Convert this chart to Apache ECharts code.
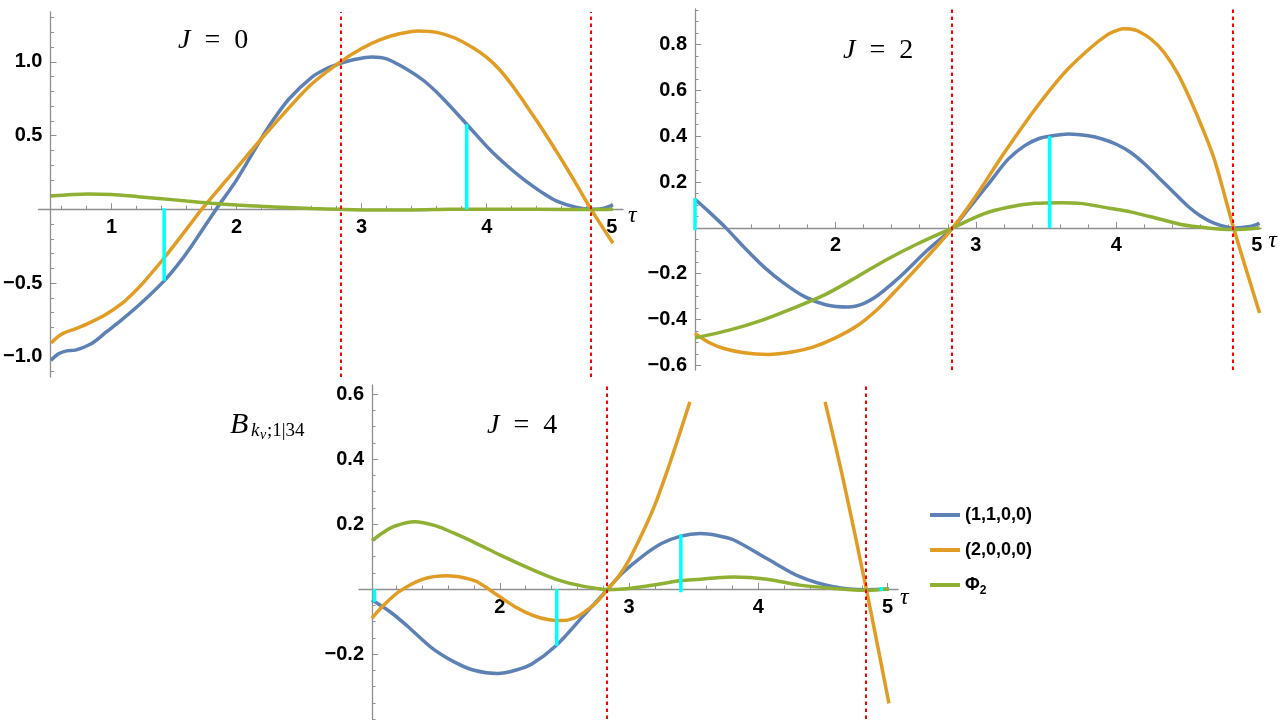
<!DOCTYPE html>
<html>
<head>
<meta charset="utf-8">
<title>B kv;1|34 for J = 0, 2, 4</title>
<script src="https://cdn.jsdelivr.net/npm/echarts@6/dist/echarts.min.js"></script>
<style>
    html, body { margin: 0; padding: 0; background: #fff; }
    #main { width: 1280px; height: 720px; }
</style>
</head>
<body>
<div id="main"></div>
<script>
'use strict';

// tau of the two red dotted lines (same in every panel)
var redLines = [2.835, 4.835];

// ---- J = 0 ----
var j0Blue = [[0.515,-1.025],[0.575,-0.98],[0.64,-0.96],[0.71,-0.955],[0.84,-0.91],[0.96,-0.83],[1.08,-0.75],[1.25,-0.625],[1.42,-0.485],
    [1.52,-0.385],[1.63,-0.26],[1.84,0.006],[2.0,0.2],[2.19,0.47],[2.3,0.615],[2.42,0.75],[2.6,0.895],[2.72,0.955],[2.83,0.99],
    [2.95,1.017],[3.08,1.033],[3.2,1.02],[3.38,0.94],[3.5,0.87],[3.64,0.76],[3.84,0.577],[4.03,0.4],[4.17,0.29],[4.3,0.2],[4.45,0.11],
    [4.56,0.055],[4.72,0.012],[4.835,0.0],[4.93,0.006],[5.01,0.03]];
var j0Orange = [[0.515,-0.906],[0.6,-0.847],[0.71,-0.81],[0.81,-0.775],[0.95,-0.715],[1.08,-0.64],[1.17,-0.57],[1.25,-0.5],[1.42,-0.33],
    [1.63,-0.1],[1.72,0.0],[1.95,0.23],[2.19,0.47],[2.42,0.69],[2.6,0.85],[2.83,1.0],[3.0,1.09],[3.15,1.15],[3.3,1.19],[3.45,1.21],
    [3.6,1.2],[3.75,1.16],[3.9,1.09],[4.0,1.03],[4.1,0.95],[4.2,0.845],[4.3,0.725],[4.4,0.6],[4.5,0.47],[4.6,0.335],[4.7,0.195],
    [4.835,0.0],[5.01,-0.23]];
var j0Green = [[0.515,0.09],[0.81,0.104],[1.0,0.1],[1.21,0.086],[1.4,0.072],[1.6,0.056],[1.8,0.041],[2.0,0.029],[2.2,0.02],[2.4,0.013],
    [2.6,0.006],[2.83,0.0],[3.1,-0.004],[3.4,-0.004],[3.7,0.0],[4.0,0.001],[4.4,0.0],[4.835,-0.002],[5.01,0.0]];
var j0Cyan = [[1.42,0.007,-0.485],[3.84,0.0,0.577]];          // [tau, from, to]
var j0XLabels = [1, 2, 3, 4, 5];
var j0YLabels = [-1.0, -0.5, 0.5, 1.0];

// ---- J = 2 ----
var j2Blue = [[1.0,0.125],[1.1,0.07],[1.22,0.0],[1.35,-0.085],[1.49,-0.17],[1.63,-0.24],[1.78,-0.3],[1.93,-0.335],[2.09,-0.345],
    [2.2,-0.33],[2.3,-0.295],[2.4,-0.245],[2.5,-0.19],[2.65,-0.1],[2.835,0.0],[2.95,0.085],[3.1,0.2],[3.23,0.3],[3.35,0.36],
    [3.45,0.39],[3.525,0.4],[3.66,0.41],[3.8,0.402],[3.9,0.388],[4.0,0.365],[4.1,0.33],[4.2,0.28],[4.3,0.22],[4.4,0.16],[4.5,0.1],
    [4.6,0.052],[4.7,0.02],[4.835,0.0],[4.95,0.006],[5.02,0.02]];
var j2Orange = [[1.0,-0.46],[1.1,-0.5],[1.2,-0.525],[1.35,-0.545],[1.52,-0.552],[1.7,-0.54],[1.84,-0.52],[2.0,-0.48],[2.16,-0.425],
    [2.3,-0.355],[2.42,-0.28],[2.55,-0.195],[2.7,-0.095],[2.835,0.0],[2.95,0.095],[3.05,0.185],[3.15,0.28],[3.25,0.37],[3.4,0.5],
    [3.525,0.6],[3.65,0.69],[3.815,0.785],[3.93,0.84],[3.99,0.858],[4.05,0.869],[4.1,0.868],[4.15,0.86],[4.25,0.822],[4.34,0.765],
    [4.44,0.67],[4.53,0.555],[4.62,0.425],[4.7,0.295],[4.835,0.0],[5.02,-0.371]];
var j2Green = [[1.0,-0.48],[1.25,-0.445],[1.49,-0.4],[1.7,-0.35],[1.93,-0.29],[2.15,-0.215],[2.36,-0.14],[2.6,-0.065],[2.835,0.0],
    [3.05,0.06],[3.23,0.09],[3.42,0.107],[3.61,0.11],[3.745,0.107],[3.96,0.085],[4.1,0.07],[4.3,0.04],[4.46,0.015],[4.65,0.0],
    [4.83,-0.007],[5.02,0.0]];
var j2Cyan = [[1.0,-0.01,0.13],[3.525,0.0,0.4],[5.08,-0.01,0.045]];
var j2XLabels = [2, 3, 4, 5];
var j2YLabels = [-0.6, -0.4, -0.2, 0.2, 0.4, 0.6, 0.8];

// ---- J = 4 ----
var j4Blue = [[1.01,-0.034],[1.15,-0.07],[1.29,-0.116],[1.47,-0.18],[1.65,-0.225],[1.8,-0.25],[1.98,-0.26],[2.12,-0.25],[2.25,-0.23],
    [2.44,-0.172],[2.64,-0.085],[2.835,0.0],[2.95,0.05],[3.1,0.1],[3.25,0.14],[3.4,0.163],[3.55,0.171],[3.68,0.165],[3.81,0.151],
    [4.065,0.094],[4.32,0.038],[4.58,0.007],[4.83,-0.002],[5.01,0.0]];
var j4OrangeA = [[1.01,-0.09],[1.1,-0.05],[1.22,-0.008],[1.4,0.03],[1.59,0.041],[1.72,0.035],[1.82,0.023],[2.0,-0.024],[2.12,-0.055],
    [2.25,-0.08],[2.37,-0.094],[2.48,-0.097],[2.57,-0.09],[2.64,-0.075],[2.75,-0.04],[2.835,0.0],[2.92,0.04],[3.0,0.09],[3.1,0.17],
    [3.2,0.26],[3.3,0.37],[3.4,0.49],[3.47,0.576]];
var j4OrangeB = [[4.516,0.576],[4.657,0.335],[4.835,0.0],[5.01,-0.352]];     // orange comes back after leaving the top
var j4Green = [[1.01,0.149],[1.1,0.175],[1.19,0.194],[1.34,0.207],[1.5,0.195],[1.65,0.171],[1.82,0.14],[2.0,0.105],[2.18,0.072],
    [2.35,0.043],[2.5,0.022],[2.64,0.009],[2.75,0.002],[2.835,-0.002],[2.95,0.0],[3.1,0.007],[3.25,0.016],[3.4,0.026],[3.55,0.03],
    [3.68,0.035],[3.81,0.037],[4.065,0.03],[4.32,0.012],[4.58,0.002],[4.83,-0.004],[5.01,0.0]];
var j4Cyan = [[1.03,0.0,-0.04],[2.44,0.0,-0.175],[3.4,-0.01,0.168],[4.95,0.006,-0.006]];
var j4XLabels = [2, 3, 4, 5];
var j4YLabels = [-0.2, 0.2, 0.4, 0.6];

var names = ['(1,1,0,0)', '(2,0,0,0)', 'Φ2'];
var blueC = '#5e81b5', orangeC = '#e19c24', greenC = '#8fb032', cyanC = '#00ffff', redC = '#ff0000';
var axisGray = '#8f8f8f';
var sans = '"Liberation Sans", Arial, sans-serif';
var serif = '"Liberation Serif", "Times New Roman", serif';

// panel boxes and ranges: [left, top, width, height], x range, y range
var grids = [
    { box: [33, 12, 590, 365], x: [0.415, 5.09], y: [-1.137, 1.338] },
    { box: [695, 9, 566, 361], x: [1.0, 5.03], y: [-0.62, 0.955] },
    { box: [359, 385, 539, 334], x: [0.91, 5.08], y: [-0.4, 0.628] }
];

function steps(from, to, step) { // minor tick positions
    var out = [];
    for (var i = 0; from + i * step <= to + 1e-9; i++) {
        out.push(Math.round((from + i * step) * 1000) / 1000);
    }
    return out;
}

function yFmt(v) {
    return (v < 0 ? '\u2212' : '') + Math.abs(v).toFixed(1);
}

// two x axes per panel (labels + long ticks, short minor ticks), both lifted to y = 0
function makeX(gi, labels, minor, nameGap, nameLH) {
    var g = grids[gi];
    var lift = -g.box[3] * (0 - g.y[0]) / (g.y[1] - g.y[0]);   // move axis from the bottom edge up to y = 0
    return [{
        type: 'value', gridIndex: gi, position: 'bottom', offset: lift, min: g.x[0], max: g.x[1],
        axisLine: { onZero: false, lineStyle: { color: axisGray, width: 1.3 } },
        axisTick: { inside: true, length: 6, customValues: labels, lineStyle: { color: axisGray, width: 1 } },
        axisLabel: { customValues: labels, margin: 8, color: '#000', fontFamily: sans, fontWeight: 'bold', fontSize: 20 },
        splitLine: { show: false },
        name: 'τ', nameLocation: 'end', nameGap: nameGap,
        nameTextStyle: { fontFamily: serif, fontStyle: 'italic', fontSize: 24, color: '#000',
            verticalAlign: 'top', lineHeight: nameLH }
    }, {
        type: 'value', gridIndex: gi, position: 'bottom', offset: lift, min: g.x[0], max: g.x[1],
        axisLine: { show: false, onZero: false },
        axisTick: { inside: true, length: 3.5, customValues: minor, lineStyle: { color: axisGray, width: 1 } },
        axisLabel: { show: false },
        splitLine: { show: false }
    }];
}

function makeY(gi, labels, minor, off) {
    var g = grids[gi];
    return [{
        type: 'value', gridIndex: gi, position: 'left', offset: off, min: g.y[0], max: g.y[1],
        axisLine: { show: true, onZero: false, lineStyle: { color: axisGray, width: 1.3 } },
        axisTick: { inside: true, length: 6, customValues: labels, lineStyle: { color: axisGray, width: 1 } },
        axisLabel: { customValues: labels, formatter: yFmt, margin: 8, color: '#000', fontFamily: sans, fontWeight: 'bold', fontSize: 20 },
        splitLine: { show: false }
    }, {
        type: 'value', gridIndex: gi, position: 'left', offset: off, min: g.y[0], max: g.y[1],
        axisLine: { show: false, onZero: false },
        axisTick: { inside: true, length: 3.5, customValues: minor, lineStyle: { color: axisGray, width: 1 } },
        axisLabel: { show: false },
        splitLine: { show: false }
    }];
}

function curve(name, color, data, gi, withRed) {
    var s = {
        name: name, type: 'line', xAxisIndex: 2 * gi, yAxisIndex: 2 * gi, data: data,
        smooth: 0.3, symbol: 'none', showSymbol: false, silent: true, z: 3,
        lineStyle: { color: color, width: 3.5 }, itemStyle: { color: color }
    };
    if (withRed) {
        s.markLine = {
            silent: true, symbol: ['none', 'none'], label: { show: false },
            lineStyle: { color: redC, width: 2, type: [3.5, 3.5] },
            data: redLines.map(function (v) { return { xAxis: v }; })
        };
    }
    return s;
}

function sticks(list, gi) { // cyan vertical bars
    return list.map(function (c) {
        return {
            type: 'line', xAxisIndex: 2 * gi, yAxisIndex: 2 * gi, data: [[c[0], c[1]], [c[0], c[2]]],
            symbol: 'none', showSymbol: false, silent: true, clip: false, z: 6,
            lineStyle: { color: cyanC, width: 3.5 }
        };
    });
}

var series = [].concat(
    curve(names[0], blueC, j0Blue, 0), curve(names[1], orangeC, j0Orange, 0), curve(names[2], greenC, j0Green, 0, true), sticks(j0Cyan, 0),
    curve(names[0], blueC, j2Blue, 1), curve(names[1], orangeC, j2Orange, 1), curve(names[2], greenC, j2Green, 1, true), sticks(j2Cyan, 1),
    curve(names[0], blueC, j4Blue, 2), curve(names[1], orangeC, j4OrangeA, 2), curve(names[1], orangeC, j4OrangeB, 2),
    curve(names[2], greenC, j4Green, 2, true), sticks(j4Cyan, 2)
);

function jLabel(txt, x, y) {
    return {
        type: 'text', x: x, y: y, silent: true,
        style: {
            text: '{i|J}{r|\u2002=\u2002' + txt + '}', fill: '#000', align: 'left', verticalAlign: 'middle',
            textAlign: 'left', textVerticalAlign: 'middle',
            rich: {
                i: { fontFamily: serif, fontStyle: 'italic', fontSize: 28, fill: '#000', color: '#000' },
                r: { fontFamily: serif, fontSize: 28, fill: '#000', color: '#000' }
            }
        }
    };
}

function piece(txt, x, y, size, italic) {
    return {
        type: 'text', x: x, y: y, silent: true,
        style: {
            text: txt, fill: '#000', align: 'left', verticalAlign: 'middle', textAlign: 'left', textVerticalAlign: 'middle',
            font: (italic ? 'italic ' : '') + size + 'px ' + serif
        }
    };
}

var option = {
    backgroundColor: '#fff',
    animation: false,
    grid: grids.map(function (g) {
        return { left: g.box[0], top: g.box[1], width: g.box[2], height: g.box[3] };
    }),
    xAxis: [].concat(
        makeX(0, j0XLabels, steps(0.6, 5.0, 0.2), 5, 13),
        makeX(1, j2XLabels, steps(1.2, 5.0, 0.2), 5, 26),
        makeX(2, j4XLabels, steps(1.2, 5.0, 0.2), 2, 17)
    ),
    yAxis: [].concat(
        makeY(0, j0YLabels, steps(-1.1, 1.3, 0.1), -12),
        makeY(1, j2YLabels, steps(-0.6, 0.95, 0.05), 0),
        makeY(2, j4YLabels, steps(-0.4, 0.6, 0.05), -13)
    ),
    legend: {
        orient: 'vertical', left: 925, top: 498, icon: 'rect', itemWidth: 30, itemHeight: 4, itemGap: 11,
        selectedMode: false,
        data: names,
        formatter: function (name) {
            return name === 'Φ2' ? '{b|Φ}{s|2}' : name;
        },
        textStyle: {
            fontFamily: sans, fontWeight: 'bold', fontSize: 18, color: '#000', lineHeight: 24,
            rich: {
                b: { fontFamily: sans, fontWeight: 'bold', fontSize: 18, color: '#000', lineHeight: 24 },
                s: { fontFamily: sans, fontWeight: 'bold', fontSize: 12, color: '#000', lineHeight: 12, verticalAlign: 'bottom' }
            }
        }
    },
    graphic: [
        jLabel('0', 178, 41),
        jLabel('2', 843, 51),
        jLabel('4', 487, 426),
        // B_{k_v;1|34}
        piece('B', 230, 425, 30, true),
        piece('k', 251, 431, 19, true),
        piece('v', 260, 435, 14, true),
        piece(';1|34', 267, 431, 19, false)
    ],
    series: series
};

var chart = echarts.init(document.getElementById('main'));
chart.setOption(option);
</script>
</body>
</html>
